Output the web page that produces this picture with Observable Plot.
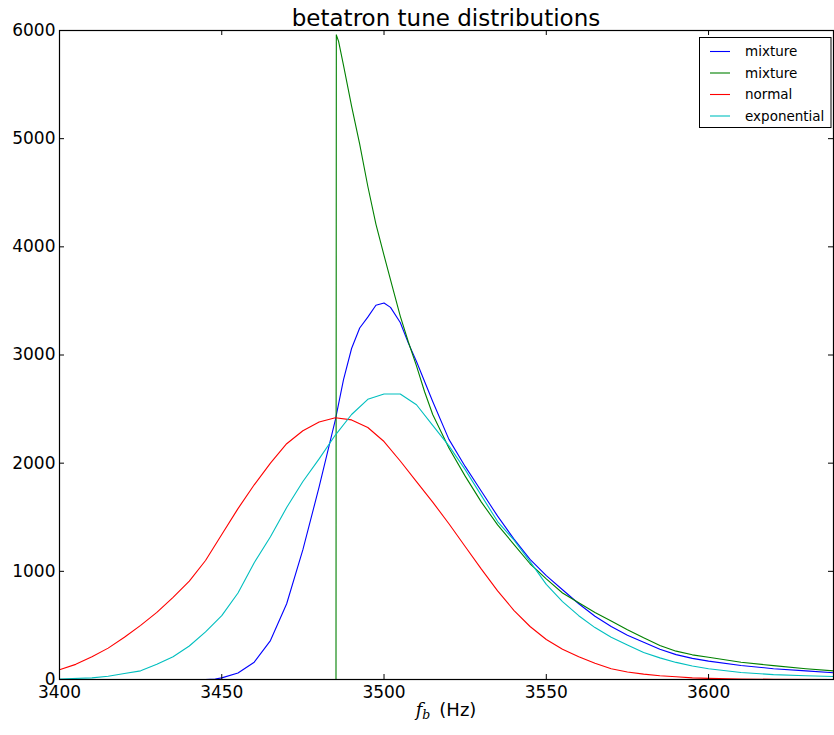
<!DOCTYPE html>
<html><head><meta charset="utf-8">
<script src="https://cdn.jsdelivr.net/npm/d3@7"></script>
<script src="https://cdn.jsdelivr.net/npm/@observablehq/plot@0.6"></script>
<style>body{margin:0;background:#fff;} #chart{width:834px;height:735px;}</style>
</head><body><div id="chart"></div>
<script>
const title = "betatron tune distributions";
const xTicks = [3400, 3450, 3500, 3550, 3600];
const yTicks = [0, 1000, 2000, 3000, 4000, 5000, 6000];
const seriesNames = ["mixture", "mixture", "normal", "exponential"];
const seriesColors = ["#0000ff", "#008000", "#ff0000", "#00bfbf"];

const blueHz = [3400, 3420, 3445, 3448, 3450, 3455, 3460, 3465, 3470, 3475, 3480, 3485, 3487.5, 3490, 3492.5, 3495, 3497.5, 3500, 3502, 3505, 3507.5, 3510, 3515, 3520, 3525, 3530, 3535, 3540, 3545, 3550, 3555, 3560, 3565, 3570, 3575, 3580, 3585, 3590, 3595, 3600, 3610, 3620, 3630, 3638.5];
const blueN  = [0, 0, 0, 5, 15, 60, 160, 360, 700, 1200, 1780, 2400, 2770, 3060, 3250, 3350, 3460, 3480, 3440, 3300, 3110, 2940, 2570, 2220, 1970, 1740, 1510, 1300, 1110, 960, 830, 700, 585, 490, 410, 345, 280, 230, 195, 170, 130, 100, 80, 62];

const greenHz = [3400, 3485.2, 3485.3, 3486, 3487.5, 3490, 3492.5, 3495, 3497.5, 3500, 3502.5, 3505, 3507.5, 3510, 3512.5, 3515, 3520, 3525, 3530, 3535, 3540, 3545, 3550, 3555, 3560, 3565, 3570, 3575, 3580, 3585, 3590, 3595, 3600, 3610, 3620, 3630, 3638.5];
const greenN  = [0, 0, 5960, 5900, 5680, 5300, 4950, 4560, 4210, 3920, 3640, 3360, 3120, 2900, 2660, 2450, 2140, 1880, 1640, 1430, 1250, 1070, 930, 800, 710, 620, 540, 460, 385, 315, 262, 228, 205, 160, 128, 100, 80];

const redHz = [3400, 3405, 3410, 3415, 3420, 3425, 3430, 3435, 3440, 3445, 3450, 3455, 3460, 3465, 3470, 3475, 3480, 3485, 3490, 3495, 3500, 3505, 3510, 3515, 3520, 3525, 3530, 3535, 3540, 3545, 3550, 3555, 3560, 3565, 3570, 3575, 3580, 3585, 3590, 3595, 3600, 3610, 3620, 3638.5];
const redN  = [90, 140, 210, 290, 390, 500, 620, 760, 910, 1100, 1340, 1580, 1800, 2000, 2180, 2300, 2380, 2420, 2400, 2330, 2200, 2020, 1830, 1640, 1440, 1230, 1020, 820, 640, 490, 370, 280, 210, 150, 100, 70, 50, 35, 25, 15, 10, 5, 2, 0];

const cyanHz = [3400, 3410, 3415, 3420, 3425, 3430, 3435, 3440, 3445, 3450, 3455, 3460, 3465, 3470, 3475, 3480, 3485, 3490, 3495, 3500, 3505, 3510, 3515, 3520, 3525, 3530, 3535, 3540, 3545, 3550, 3555, 3560, 3565, 3570, 3575, 3580, 3585, 3590, 3595, 3600, 3610, 3620, 3630, 3638.5];
const cyanN  = [5, 15, 30, 55, 80, 140, 210, 310, 440, 590, 800, 1080, 1320, 1590, 1830, 2040, 2260, 2450, 2590, 2640, 2640, 2540, 2350, 2160, 1940, 1700, 1460, 1290, 1090, 880, 720, 590, 480, 390, 320, 250, 200, 158, 125, 100, 65, 45, 35, 28];

const series = [
  {hz: blueHz, n: blueN},
  {hz: greenHz, n: greenN},
  {hz: redHz, n: redN},
  {hz: cyanHz, n: cyanN}
];
const tables = series.map(s => s.hz.map((h, j) => ({hz: h, n: s.n[j]})));

const W = 834, H = 735, mL = 59, mR = 1, mT = 30, mB = 56;
const frameW = W - mL - mR, frameH = H - mT - mB, tickLen = 5;

const plot = Plot.plot({
  width: W, height: H,
  marginLeft: mL, marginRight: mR, marginTop: mT, marginBottom: mB,
  style: {fontFamily: "DejaVu Sans, sans-serif", fontSize: "17px", color: "#000", background: "#fff", overflow: "visible"},
  x: {domain: [3400, 3638.5]},
  y: {domain: [0, 6000]},
  marks: [
    ...tables.map((t, i) => Plot.lineY(t, {x: "hz", y: "n", stroke: seriesColors[i], strokeWidth: 1.1})),
    Plot.axisX({ticks: xTicks, tickSize: 0, tickPadding: 6, label: null, tickFormat: d => String(d)}),
    Plot.axisY({ticks: yTicks, tickSize: 0, tickPadding: 4, label: null, tickFormat: d => String(d)}),
    Plot.tickX(xTicks, {x: d => d, insetTop: frameH - tickLen, stroke: "#000"}),
    Plot.tickX(xTicks, {x: d => d, insetBottom: frameH - tickLen, stroke: "#000"}),
    Plot.tickY(yTicks, {y: d => d, insetRight: frameW - tickLen, stroke: "#000"}),
    Plot.tickY(yTicks, {y: d => d, insetLeft: frameW - tickLen, stroke: "#000"}),
    Plot.frame({stroke: "#000", strokeWidth: 1.2})
  ]
});

const svg = d3.select(plot);
svg.append("text")
  .attr("x", mL + frameW / 2).attr("y", 26)
  .attr("text-anchor", "middle").attr("font-size", 23).attr("fill", "#000")
  .text(title);

const xl = svg.append("text")
  .attr("x", mL + frameW / 2).attr("y", 716)
  .attr("text-anchor", "middle").attr("font-size", 18).attr("fill", "#000");
xl.append("tspan").attr("font-family", "DejaVu Serif, serif").attr("font-style", "italic").text("f");
xl.append("tspan").attr("font-family", "DejaVu Serif, serif").attr("font-style", "italic").attr("font-size", 12.5).attr("dy", 3).text("b");
xl.append("tspan").attr("dy", -3).text("\u2002(Hz)");

const lg = svg.append("g");
lg.append("rect").attr("x", 699.5).attr("y", 37.5).attr("width", 131.5).attr("height", 90)
  .attr("fill", "#fff").attr("stroke", "#000");
seriesNames.forEach((name, i) => {
  const y = 51.5 + i * 21.5;
  lg.append("line").attr("x1", 710).attr("x2", 730).attr("y1", y).attr("y2", y)
    .attr("stroke", seriesColors[i]).attr("stroke-width", 1.1);
  lg.append("text").attr("x", 745).attr("y", y).attr("dy", "0.35em")
    .attr("text-anchor", "start")
    .attr("font-size", 13.5).attr("fill", "#000").text(name);
});

document.getElementById("chart").appendChild(plot);
</script>
</body></html>
